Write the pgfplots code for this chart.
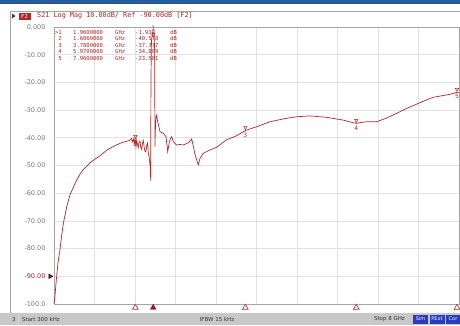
\documentclass[border=0pt]{standalone}
\usepackage{pgfplots}
\pgfplotsset{compat=1.18}
\usepackage{fontspec}
\setmainfont{DejaVu Sans}
\newfontfamily\monofont{DejaVu Sans Mono}
\definecolor{trace}{RGB}{178,40,40}
\definecolor{ttl}{RGB}{170,40,40}
\definecolor{tickc}{RGB}{120,120,120}
\definecolor{gridc}{RGB}{226,226,226}
\definecolor{framec}{RGB}{165,165,165}
\definecolor{barc}{RGB}{200,200,200}
\definecolor{topblue}{RGB}{30,95,170}
\definecolor{btnblue}{RGB}{40,60,190}
\begin{document}
\begin{tikzpicture}
\useasboundingbox (0,0) rectangle (460pt,325pt);
\fill[white] (0,0) rectangle (460pt,325pt);
% top blue bar
\fill[topblue] (0,321.5pt) rectangle (460pt,325pt);
\draw[black!70, line width=0.6pt] (0,321.5pt) -- (460pt,321.5pt);
% window border
\draw[framec, line width=1pt] (10pt,12pt) -- (10pt,314pt) -- (460pt,314pt);
% title row
\fill[ttl!80!black] (12pt,311.5pt) -- (15.5pt,309pt) -- (12pt,306.5pt) -- cycle;
\node[fill=ttl, text=white, inner sep=0pt, minimum width=12pt, minimum height=7pt, font=\monofont\fontsize{5.5}{6}\selectfont] at (24.5pt,309pt) {F2};
\node[anchor=west, inner sep=0pt, text=ttl, font=\monofont\fontsize{6.8}{7}\selectfont] at (37pt,309pt) {S21 Log Mag 10.00dB/ Ref -90.00dB [F2]};

\begin{axis}[
  at={(54pt,21pt)}, anchor=south west, scale only axis,
  width=405pt, height=277pt,
  xmin=0.0003, xmax=8, ymin=-100, ymax=0,
  xtick={0.8,1.6,2.4,3.2,4.0,4.8,5.6,6.4,7.2},
  xticklabels={},
  ytick={-100,-90,-80,-70,-60,-50,-40,-30,-20,-10,0},
  yticklabels={-100.0,{\color{ttl}-90.00},-80.00,-70.00,-60.00,-50.00,-40.00,-30.00,-20.00,-10.00,0.000},
  grid=major, grid style={gridc, line width=0.7pt},
  major tick length=0pt,
  axis line style={framec, line width=0.8pt},
  yticklabel style={font=\fontsize{6.5}{7}\selectfont, text=tickc, xshift=-5pt},
  clip=false,
]
\addplot[trace, line width=0.7pt] coordinates {
(0.0003,-100) (0.02,-97) (0.04,-92.5) (0.053,-90) (0.08,-85) (0.118,-80.5) (0.15,-75.5)
(0.184,-71) (0.25,-65) (0.316,-60.6) (0.415,-56.5) (0.5,-53.5) (0.573,-51.6) (0.711,-49)
(0.8,-47.8) (0.909,-46.5) (1.047,-44.4) (1.185,-43) (1.304,-42) (1.422,-41.3) (1.5,-40.9)
(1.535,-40.2) (1.555,-41.5) (1.575,-40.4) (1.59,-42.0) (1.606,-40.58) (1.62,-43.2) (1.634,-40.8)
(1.65,-42.5) (1.665,-43.5) (1.68,-41.5) (1.699,-41.2) (1.715,-43.5) (1.732,-44.2) (1.748,-42.0)
(1.764,-41.0) (1.785,-43.8) (1.8,-45.0) (1.817,-44.8) (1.835,-42.5) (1.85,-41.8) (1.862,-45.5)
(1.88,-47.0) (1.896,-49.6) (1.905,-52) (1.91,-55.5) (1.915,-20) (1.925,-5) (1.945,-2.3)
(1.96,-1.938) (1.975,-2.4) (1.988,-8) (1.995,-43.2) (2.0,-38) (2.015,-32.5) (2.029,-31.8)
(2.045,-34) (2.06,-35) (2.094,-37.8) (2.159,-38.4) (2.212,-39.6) (2.235,-43) (2.246,-45)
(2.26,-43.5) (2.278,-41.8) (2.3,-40.2) (2.325,-39.6) (2.357,-41.4) (2.424,-42.6) (2.489,-42.4)
(2.554,-42.6) (2.653,-41.8) (2.7,-41) (2.72,-40.4) (2.751,-43) (2.785,-46) (2.819,-48)
(2.85,-49.8) (2.884,-47.4) (2.949,-45.6) (3.081,-44.4) (3.214,-43.4) (3.279,-42.5) (3.4,-40.8)
(3.6,-39.3) (3.78,-37.377) (4.0,-36) (4.267,-34.2) (4.55,-33.1) (4.795,-32.4) (5.057,-32.1)
(5.387,-32.6) (5.709,-33.6) (5.85,-34.3) (5.97,-34.809) (6.05,-34.5) (6.177,-34.2) (6.375,-34.2)
(6.55,-33.0) (6.696,-31.8) (6.967,-29.4) (7.23,-27.3) (7.486,-25.4) (7.822,-24.3) (7.96,-23.581)
(8.0,-23.6)
};
% on-trace markers 2-5 (symbol and number below the trace)
\addplot[only marks, mark=triangle, mark size=2pt,
  mark options={trace, rotate=180, line width=0.5pt, yshift=-3pt},
  nodes near coords, point meta=explicit symbolic,
  every node near coord/.append style={font=\fontsize{6}{6}\selectfont, text=trace, anchor=north, yshift=-4.5pt, inner sep=0.5pt}]
  coordinates {(1.606,-40.578)[2] (3.78,-37.377)[3] (5.97,-34.809)[4] (7.96,-23.581)[5]};
% active marker 1 (above the peak)
\addplot[only marks, mark=triangle, mark size=2pt,
  mark options={trace, rotate=180, line width=0.5pt, yshift=2.5pt},
  nodes near coords, point meta=explicit symbolic,
  every node near coord/.append style={font=\fontsize{6}{6}\selectfont, text=trace, anchor=south, yshift=4pt, inner sep=0.5pt}]
  coordinates {(1.96,-1.938)[1]};
% stimulus markers below the axis
\addplot[only marks, mark=triangle, mark size=3.3pt, mark options={trace, line width=0.6pt}]
  coordinates {(1.606,-101.3) (3.78,-101.3) (5.97,-101.3) (7.96,-101.3)};
\addplot[only marks, mark=triangle*, mark size=3.3pt, mark options={fill=trace!80!black, draw=trace!80!black}]
  coordinates {(1.96,-101.3)};
% reference level pointer
\addplot[only marks, mark=triangle*, mark size=2.6pt, mark options={rotate=-90, fill=trace!80!black, draw=none}]
  coordinates {(-0.075,-90)};
\end{axis}

% marker table
\begin{scope}[every node/.style={inner sep=0pt, text=ttl, font=\monofont\fontsize{5.5}{6}\selectfont}]
\foreach \ty/\id/\fr/\val in {292.7/>1/1.9600000/-1.938, 286.2/2/1.6060000/-40.578, 279.8/3/3.7800000/-37.377, 273.3/4/5.9700000/-34.809, 266.8/5/7.9600000/-23.581}{
  \node[anchor=east] at (62pt,\ty pt) {\id};
  \node[anchor=west] at (73pt,\ty pt) {\fr};
  \node[anchor=west] at (115pt,\ty pt) {GHz};
  \node[anchor=west] at (135pt,\ty pt) {\val};
  \node[anchor=west] at (170pt,\ty pt) {dB};
}
\end{scope}

% status bar
\fill[barc] (0,0) rectangle (460pt,12.5pt);
\draw[white!70!gray, line width=0.6pt] (18pt,1pt) -- (18pt,11.5pt);
\begin{scope}[every node/.style={inner sep=0pt, text=black!80, font=\fontsize{5.5}{6}\selectfont}]
\node[anchor=west] at (12pt,6pt) {3};
\node[anchor=west] at (22pt,6pt) {Start 300 kHz};
\node at (217pt,6pt) {IFBW 15 kHz};
\node[anchor=east] at (405pt,6pt) {Stop 8 GHz};
\end{scope}
\fill[btnblue] (413pt,1.5pt) rectangle (428pt,10.5pt);
\fill[btnblue] (429.5pt,1.5pt) rectangle (444.5pt,10.5pt);
\fill[btnblue] (446pt,1.5pt) rectangle (460pt,10.5pt);
\begin{scope}[every node/.style={inner sep=0pt, text=white, font=\fontsize{5}{5}\selectfont}]
\node at (420.5pt,6pt) {Sim};
\node at (437pt,6pt) {PExt};
\node at (453pt,6pt) {Cor};
\end{scope}
\end{tikzpicture}
\end{document}
